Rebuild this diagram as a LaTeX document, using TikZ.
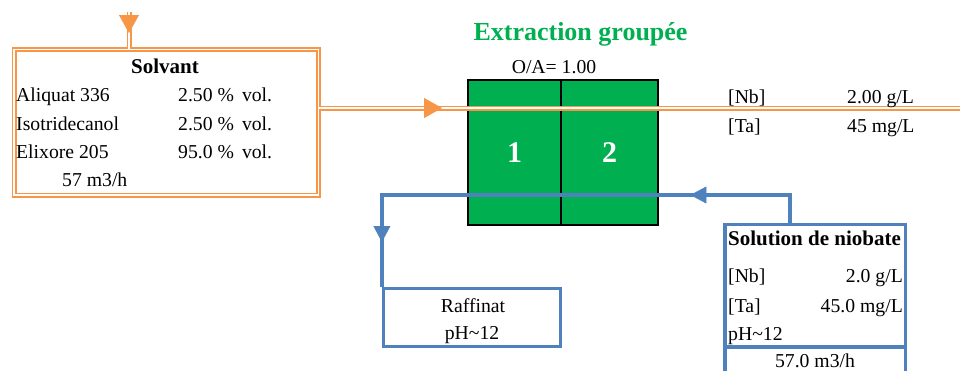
\documentclass[tikz,border=0pt]{standalone}
\usepackage{fontspec}
\setmainfont{Liberation Serif}
\usetikzlibrary{arrows.meta,decorations.markings}
\definecolor{orng}{RGB}{247,150,70}
\definecolor{blu}{RGB}{79,129,189}
\definecolor{grn}{RGB}{0,176,80}
\begin{document}
\begin{tikzpicture}[x=1pt,y=-1pt,
  txt/.style={inner sep=0pt, font=\fontsize{19.7}{22}\selectfont},
  btxt/.style={inner sep=0pt, font=\fontsize{21}{24}\selectfont\bfseries},
  orngdouble/.style={draw=orng, line width=1.6pt, double=white, double distance=1.8pt},
  bluline/.style={draw=blu, line width=4.3pt},
  blubox/.style={draw=blu, line width=3.2pt, inner sep=0pt, rectangle},
  cell/.style={draw=black, line width=2pt, fill=grn, inner sep=0pt, minimum height=144.5pt, text=white, font=\fontsize{30}{30}\selectfont\bfseries},
  otip/.style={decoration={markings, mark=at position #1 with {\arrow[orng]{Triangle[length=18pt,width=20pt]}}}, decorate},
  btip/.style={decoration={markings, mark=at position #1 with {\arrow[blu]{Triangle[length=16pt,width=17pt]}}}, decorate},
]
\useasboundingbox (0,0) rectangle (960,370);
\clip (0,0) rectangle (960,370);

% Solvent box
\node[orngdouble, rectangle, inner sep=0pt, minimum width=304.5pt, minimum height=145.5pt] (solv) at (166.25,122.25) {};
\node[btxt, anchor=base] (solvt) at (165,73) {Solvant};
\node[txt, anchor=base west] (s1) at (16,101) {Aliquat 336};
\node[txt, anchor=base west] (s1v) at (178,101) {2.50 \%\hspace{8pt}vol.};
\node[txt, anchor=base west] (s2) at (16,130) {Isotridecanol};
\node[txt, anchor=base west] (s2v) at (178,130) {2.50 \%\hspace{8pt}vol.};
\node[txt, anchor=base west] (s3) at (16,158) {Elixore 205};
\node[txt, anchor=base west] (s3v) at (178,158) {95.0 \%\hspace{8pt}vol.};
\node[txt, anchor=base west] (s4) at (62,186) {57 m3/h};

% Extraction unit
\node[inner sep=0pt, font=\fontsize{26}{30}\selectfont\bfseries, text=grn, anchor=base] (title) at (580.5,40) {Extraction groupée};
\node[txt, anchor=base] (oa) at (554,73) {O/A= 1.00};
\node[cell, minimum width=93pt] (e1) at (514.5,152.25) {1};
\node[cell, minimum width=97pt] (e2) at (609.5,152.25) {2};

% Organic stream
\coordinate (topin) at (129,12);
\coordinate (orgout) at (965,108);
\coordinate (orgin) at (318.5,108);
\draw[orngdouble] (topin) -- (topin |- solv.north);
\path[otip=21pt] (topin) -- (topin |- solv.north);
\draw[orngdouble] (orgin) -- (orgout);
\path[otip=123.5pt] (orgin) -- (orgout);

% Loaded organic labels
\node[txt, anchor=base west] (r1) at (728,103) {[Nb]};
\node[txt, anchor=base west] (r1v) at (847,103) {2.00 g/L};
\node[txt, anchor=base west] (r2) at (728,132) {[Ta]};
\node[txt, anchor=base west] (r2v) at (847,132) {45 mg/L};

% Raffinate box
\node[blubox, minimum width=177pt, minimum height=58pt] (raf) at (472,317.5) {};
\node[txt, anchor=base] (raft) at (473,312) {Raffinat};
\node[txt, anchor=base] (rafph) at (472,339) {pH\textasciitilde12};

% Niobate solution box
\node[blubox, minimum width=180.5pt, minimum height=175.5pt] (nio) at (815.25,312.25) {};
\coordinate (sep) at (815,347);
\draw[blu, line width=3.2pt] (nio.west |- sep) -- (nio.east |- sep);
\node[btxt, anchor=base west] (niot) at (728,245) {Solution de niobate};
\node[txt, anchor=base west] (n1) at (728,282) {[Nb]};
\node[txt, anchor=base east] (n1v) at (903,282) {2.0 g/L};
\node[txt, anchor=base west] (n2) at (728,312) {[Ta]};
\node[txt, anchor=base east] (n2v) at (903,312) {45.0 mg/L};
\node[txt, anchor=base west] (n3) at (728,340) {pH\textasciitilde12};
\node[txt, anchor=base] (n4) at (815,367) {57.0 m3/h};

% Aqueous stream
\coordinate (turn) at (790,195);
\draw[bluline] (turn |- nio.north) -- (turn) -| (raf.north west);
\path[btip=127.5pt] (turn |- nio.north) -- (turn) -| (raf.north west);
\path[btip=483pt] (turn |- nio.north) -- (turn) -| (raf.north west);
\end{tikzpicture}
\end{document}
